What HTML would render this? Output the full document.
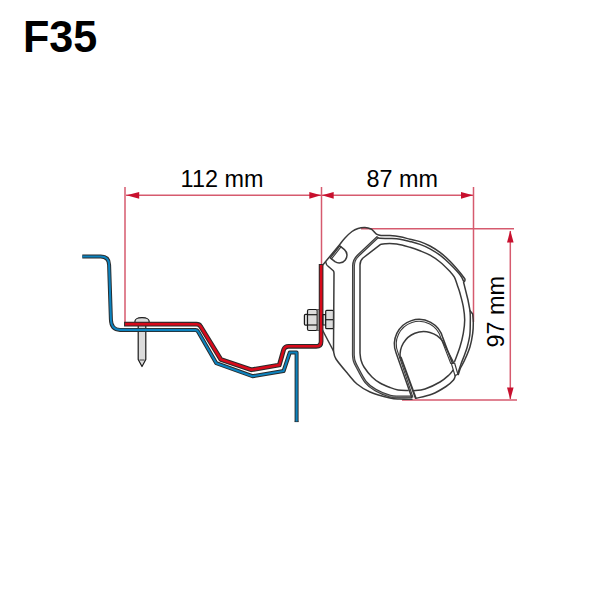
<!DOCTYPE html>
<html><head><meta charset="utf-8">
<style>
html,body{margin:0;padding:0;background:#fff;}
svg{display:block;}
text{font-family:"Liberation Sans",sans-serif;}
</style></head>
<body>
<svg width="600" height="600" viewBox="0 0 600 600">
<rect width="600" height="600" fill="#fff"/>
<text transform="translate(23,51.5) scale(1.027,1.058)" font-size="42" font-weight="bold" fill="#000">F35</text>
<g stroke="#d65a6e" stroke-width="1.5" fill="none">
  <line x1="125" y1="187" x2="125" y2="323"/>
  <line x1="321.5" y1="187" x2="321.5" y2="264.5"/>
  <line x1="473.5" y1="187" x2="473.5" y2="322"/>
  <line x1="126" y1="195.3" x2="473" y2="195.3"/>
  <line x1="361" y1="228.7" x2="514" y2="228.7"/>
  <line x1="402" y1="400" x2="517" y2="400"/>
  <line x1="510.3" y1="231" x2="510.3" y2="399"/>
</g>
<g fill="#c8102e">
  <polygon points="126.5,195.3 139.2,191.9 139.2,198.7"/>
  <polygon points="321,195.3 309.3,191.9 309.3,198.7"/>
  <polygon points="322,195.3 333.7,191.9 333.7,198.7"/>
  <polygon points="473,195.3 461,191.9 461,198.7"/>
  <polygon points="510.3,230.5 507,242.5 513.6,242.5"/>
  <polygon points="510.3,399.5 507,387.5 513.6,387.5"/>
</g>
<g font-size="23.4" fill="#000" text-anchor="middle">
  <text x="222" y="187">112 mm</text>
  <text x="402.2" y="187">87 mm</text>
  <text transform="translate(503.9,311.8) rotate(-90)" x="0" y="0">97 mm</text>
</g>
<g stroke="#1a1a1a" stroke-width="1.2" fill="#dcdcdc" stroke-linejoin="round">
  <path d="M138.2,322 L138.2,359.5 L142,366.5 L145.8,359.5 L145.8,322 Z"/>
  <path d="M134.8,322.5 C134.8,318.6 137,317.6 142,317.6 C147,317.6 149.3,318.6 149.3,322.5 Z"/>
  <path d="M139.5,360 L144.5,360" fill="none" stroke-width="0.8"/>
</g>
<g fill="none" stroke-linejoin="round">
<path d="M82.3,256.5 L100.7,256.5 Q109,256.5 109.1,265 L110.9,319.5 Q111.2,329.7 120,329.9 L195.6,330.1 Q197.2,330.1 198,331.5 L216.3,363.2 L252.5,376.2 L283.6,371 L289.8,352.5 L296.6,352.5 L296.6,421.5" stroke="#2a2a2a" stroke-width="4.0" stroke-linecap="butt"/>
<path d="M294.6,421.5 L298.6,421.5" stroke="#2a2a2a" stroke-width="1.2"/>
<path d="M82.3,256.5 L100.7,256.5 Q109,256.5 109.1,265 L110.9,319.5 Q111.2,329.7 120,329.9 L195.6,330.1 Q197.2,330.1 198,331.5 L216.3,363.2 L252.5,376.2 L283.6,371 L289.8,352.5 L296.6,352.5 L296.6,421.5" stroke="#0c82be" stroke-width="2.1"/>
<path d="M126.4,324.1 L196.5,324.2 Q199.3,324.2 200.5,326.3 L220.9,359.5 L251.3,369.8 L279.3,365 L283.7,349.5 Q284.8,346.3 288.5,346.3 L316.2,346.3 Q321.1,346.3 321.1,341.4 L321.1,266.3" stroke="#2a2a2a" stroke-width="4.7" stroke-linecap="square"/>
<path d="M126.4,324.1 L196.5,324.2 Q199.3,324.2 200.5,326.3 L220.9,359.5 L251.3,369.8 L279.3,365 L283.7,349.5 Q284.8,346.3 288.5,346.3 L316.2,346.3 Q321.1,346.3 321.1,341.4 L321.1,266.3" stroke="#d80a1b" stroke-width="2.6" stroke-linecap="square"/>
</g>
<g stroke="#1a1a1a" stroke-width="1.2" fill="#dcdcdc" stroke-linejoin="round">
  <rect x="304.4" y="314.4" width="3.6" height="10.8" rx="1.2"/>
  <rect x="307.5" y="309.5" width="9.8" height="21" rx="1.5"/>
  <line x1="307.5" y1="314.7" x2="317.3" y2="314.7"/>
  <line x1="307.5" y1="325" x2="317.3" y2="325"/>
  <rect x="317.3" y="309.5" width="1.6" height="21" fill="#d0d0d0" stroke-width="0.6"/>
  <rect x="323" y="314.7" width="2.7" height="10.3"/>
  <rect x="325.7" y="310.3" width="7.8" height="18.4" rx="1"/>
  <line x1="325.7" y1="319.7" x2="333.5" y2="319.7"/>
</g>
<g fill="none" stroke="#3a3a3a" stroke-linejoin="round" stroke-linecap="round">
<path d="M323,264.7 L340,244.2  C340.83,243.17 343,240.12 345,238 C347,235.88 349.83,233.08 352,231.5 C354.17,229.92 355.83,229.15 358,228.5 C360.17,227.85 362.83,227.52 365,227.6 C367.17,227.68 369.5,228.33 371,229 C372.5,229.67 373,230.7 374,231.6 C375,232.5 375.83,233.75 377,234.4 C378.17,235.05 379.67,235.3 381,235.5 C382.33,235.7 383.5,235.58 385,235.6 C386.5,235.62 387.5,235.4 390,235.6 C392.5,235.8 396.67,236.2 400,236.8 C403.33,237.4 406.67,238.4 410,239.2 C413.33,240 416.67,240.47 420,241.6 C423.33,242.73 426.67,244.2 430,246 C433.33,247.8 436.67,249.87 440,252.4 C443.33,254.93 446.67,257.87 450,261.2 C453.33,264.53 457.53,269.47 460,272.4 C462.47,275.33 464,277.73 464.8,278.8 Q465.6,281 463.6,282.4 L468,300 L470,310.7 L472.7,314  C472.8,315.45 473.3,319.48 473.3,322.7 C473.3,325.92 473.25,329.3 472.7,333.3 C472.15,337.3 471.33,342.25 470,346.7 C468.67,351.15 466.28,356.45 464.7,360 C463.12,363.55 461.57,365.58 460.5,368 C459.43,370.42 458.67,373.42 458.3,374.5" stroke-width="1.5" />
<path d="M376.6,237.3 C377.17,237.47 377.77,238.1 380,238.3 C382.23,238.5 386.67,238.35 390,238.5 C393.33,238.65 396.67,238.7 400,239.2 C403.33,239.7 406.67,240.63 410,241.5 C413.33,242.37 416.67,243.18 420,244.4 C423.33,245.62 426.67,247 430,248.8 C433.33,250.6 436.67,252.67 440,255.2 C443.33,257.73 446.67,260.73 450,264 C453.33,267.27 457.73,271.93 460,274.8 C462.27,277.67 463,280.13 463.6,281.2" stroke-width="1.5" />
<path d="M470,310.7 C470.05,311.58 470.25,314.12 470.3,316 C470.35,317.88 470.38,318.83 470.3,322 C470.22,325.17 470.3,330.88 469.8,335 C469.3,339.12 468.18,343.37 467.3,346.7 C466.42,350.03 465.55,352.12 464.5,355 C463.45,357.88 462.12,360.87 461,364 C459.88,367.13 458.33,372.17 457.8,373.8" stroke-width="1.5" />
<path d="M454.7,361.3 C455.58,358.87 458.57,351.37 460,346.7 C461.43,342.03 462.52,337.75 463.3,333.3 C464.08,328.85 464.7,324.43 464.7,320 C464.7,315.57 464.08,311.15 463.3,306.7 C462.52,302.25 460.95,296.75 460,293.3 C459.05,289.85 458.53,288.68 457.6,286 C456.67,283.32 455.67,279.6 454.4,277.2 C453.13,274.8 452.4,274.13 450,271.6 C447.6,269.07 443.33,264.73 440,262 C436.67,259.27 433.33,257.07 430,255.2 C426.67,253.33 423.33,252.12 420,250.8 C416.67,249.48 413.88,248.43 410,247.3 C406.12,246.17 400.87,244.6 396.7,244 C392.53,243.4 387.68,243.63 385,243.7 C382.32,243.77 381.33,244.28 380.6,244.4 L363,258 Q360,260.5 360,265 L360,353  C360.17,354.17 360.33,357.67 361,360 C361.67,362.33 362.17,364.17 364,367 C365.83,369.83 369.33,374.33 372,377 C374.67,379.67 377,381.25 380,383 C383,384.75 387,386.33 390,387.5 C393,388.67 395,389.48 398,390 C401,390.52 406.33,390.5 408,390.6" stroke-width="1.5" />
<path d="M413.3,390.8 C415.25,390.5 420.55,390.47 425,389 C429.45,387.53 436,384.33 440,382 C444,379.67 446.83,376.95 449,375 C451.17,373.05 452.33,371.08 453,370.3" stroke-width="1.5" />
<path d="M377,237.8 L358.15,255.5 Q353.45,260 353.45,266 L353.35,355  C353.48,355.96 353.57,358.82 354.15,360.75 C354.72,362.68 354.91,363.09 356.8,366.6 C358.69,370.11 362.38,377.9 365.5,381.8 C368.62,385.7 371.38,387.6 375.5,390 C379.62,392.4 386.12,395.05 390.2,396.2 C394.28,397.35 396.53,396.78 400,396.9 C403.47,397.02 409.17,396.9 411,396.9" stroke-width="2.9" />
<path d="M377,237.8 L358.15,255.5 Q353.45,260 353.45,266 L353.35,355  C353.48,355.96 353.57,358.82 354.15,360.75 C354.72,362.68 354.91,363.09 356.8,366.6 C358.69,370.11 362.38,377.9 365.5,381.8 C368.62,385.7 371.38,387.6 375.5,390 C379.62,392.4 386.12,395.05 390.2,396.2 C394.28,397.35 396.53,396.78 400,396.9 C403.47,397.02 409.17,396.9 411,396.9" stroke-width="0.6" stroke="#bbb"/>
<path d="M322.7,330.5 L333.5,351  C333.92,352.33 333.58,355.17 336,359 C338.42,362.83 344.5,369.83 348,374 C351.5,378.17 353.33,381 357,384 C360.67,387 364.5,389.67 370,392 C375.5,394.33 385,396.82 390,398 C395,399.18 396.33,398.88 400,399.1 C403.67,399.32 410,399.27 412,399.3" stroke-width="1.5" />
<path d="M415.8,398.3 C418.45,397.63 426.67,396.27 431.7,394.3 C436.73,392.33 442.37,388.88 446,386.5 C449.63,384.12 451.95,381.82 453.5,380 C455.05,378.18 455,376.33 455.3,375.6" stroke-width="1.5" />
<path d="M325.7,262 Q326.2,265.5 328.7,266.7 L333.3,270.7 Q334,271.6 334,273 L333.5,351" stroke-width="1.5" />
<path d="M330.26,257.9 L339.76,245.9 L344.45,249.6 A7.67,7.67 0 0 1 334.95,261.6 Z" stroke-width="1.5" />
<path d="M331.5,258.9 L341,246.9" stroke-width="1.1" />
<path d="M411.7,397.3 L396.03,352.82 A24.6,24.6 0 1 1 442.76,337.63 L452.4,363.2" stroke-width="1.5" />
<path d="M412.9,397.1 L397.81,352.13 A22.7,22.7 0 1 1 440.93,338.12 L450.8,363.5" stroke-width="1.1" />
<path d="M400.2,358 A23.6,23.6 0 0 1 442.5,341 L453.8,363" stroke-width="1.5" />
<path d="M400.9,357.5 L415.6,397.8" stroke-width="2.0" />
<path d="M451.4,363.6 L454.6,363 L457.9,374.3 L455,375.6 Z" stroke-width="1.2" />
</g>

</svg>
</body></html>
